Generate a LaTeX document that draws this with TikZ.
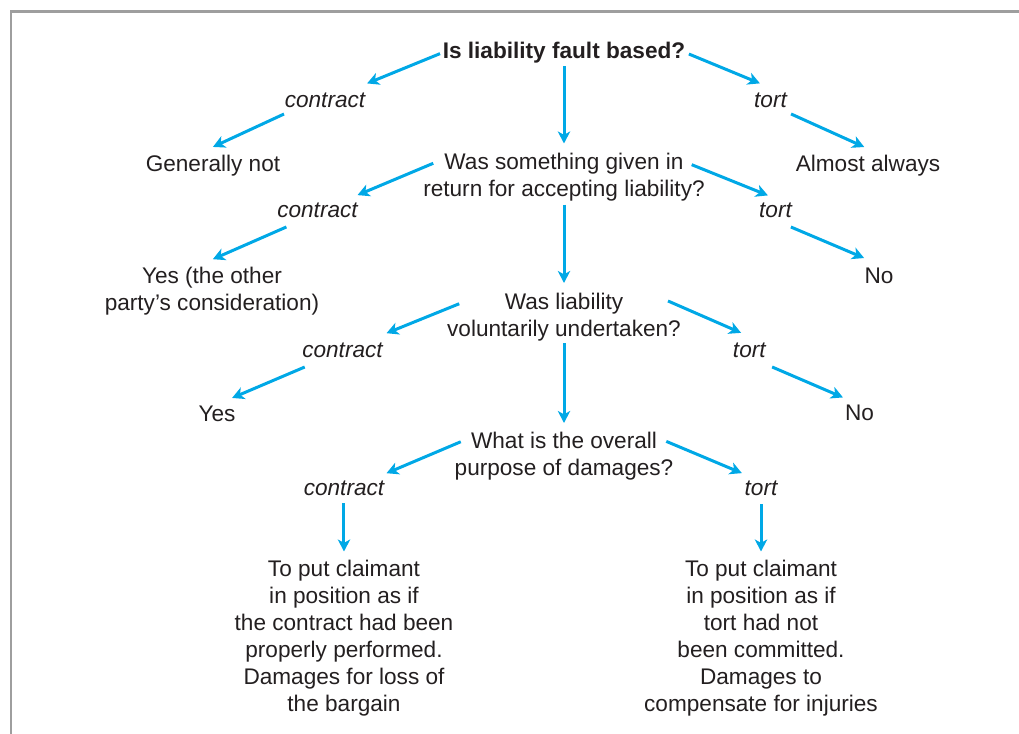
\documentclass[tikz,border=0pt]{standalone}
\usepackage{fontspec}
\setmainfont{Liberation Sans}
\usetikzlibrary{arrows.meta,positioning}
\definecolor{arrowblue}{RGB}{0,168,230}
\definecolor{ink}{RGB}{35,31,32}
\definecolor{framegray}{RGB}{158,158,158}

\begin{document}
\begin{tikzpicture}[
  x=0.5bp, y=-0.5bp, on grid,
  font=\fontsize{11.3bp}{13.5bp}\selectfont,
  every node/.style={inner sep=0pt, outer sep=0pt, text=ink},
  word/.style={text height=8bp, text depth=2.5bp},
  lead/.style={word, font=\fontsize{11.3bp}{13.5bp}\selectfont\bfseries},
  side/.style={word, font=\fontsize{11.3bp}{13.5bp}\selectfont\itshape},
  ask/.style={align=center},
  flow/.style={-{Stealth[length=6bp, width=6.2bp, inset=1.7bp]}, line width=1.5bp, draw=arrowblue},
  frame/.style={draw=framegray, line width=1.15bp}
]
\useasboundingbox (0,0) rectangle (1019,734);
\draw[frame] (11,734) -- (11,11.5) -- (1019,11.5);

\node[lead] (q1) at (564,52.5) {Is liability fault based?};
\node[side, below left=24.5bp and 119.5bp of q1] (c1) {contract};
\node[side, below right=24.5bp and 103.25bp of q1] (t1) {tort};
\node[word, below left=32bp and 56bp of c1] (gn) {Generally not};
\node[word, below right=32bp and 48.75bp of t1] (aa) {Almost always};

\node[ask, below=62.4bp of q1] (q2) {Was something given in\\return for accepting liability?};
\node[side, below left=17.1bp and 123.25bp of q2] (c2) {contract};
\node[side, below right=17.1bp and 105.75bp of q2] (t2) {tort};
\node[ask, below left=39.6bp and 52.75bp of c2] (yes1) {Yes (the other\\party’s consideration)};
\node[word, below right=33bp and 51.75bp of t2] (no1) {No};

\node[ask, below=69.75bp of q2] (q3) {Was liability\\voluntarily undertaken?};
\node[side, below left=17.35bp and 110.75bp of q3] (c3) {contract};
\node[side, below right=17.35bp and 92.65bp of q3] (t3) {tort};
\node[word, below left=32bp and 62.75bp of c3] (yes2) {Yes};
\node[word, below right=31.65bp and 55.1bp of t3] (no2) {No};

\node[ask, below=69.5bp of q3] (q4) {What is the overall\\purpose of damages?};
\node[side, below left=16.85bp and 110bp of q4] (c4) {contract};
\node[side, below right=16.85bp and 98.5bp of q4] (t4) {tort};
\node[ask, below=74.4bp of c4] (out1) {To put claimant\\in position as if\\the contract had been\\properly performed.\\Damages for loss of\\the bargain};
\node[ask, below=74.4bp of t4] (out2) {To put claimant\\in position as if\\tort had not\\been committed.\\Damages to\\compensate for injuries};

% first question
\draw[flow, shorten <=1.5bp, shorten >=10bp] (q1.west) -- (c1.24);
\draw[flow, shorten <=2bp, shorten >=10bp] (q1.east) -- (t1.53);
\draw[flow, shorten <=1.5bp, shorten >=4.9bp] (q1.south) -- (q2.north);
\draw[flow, shorten <=2.4bp, shorten >=9.6bp] (c1.196) -- (gn.149);
\draw[flow, shorten <=2.4bp, shorten >=9.7bp] (t1.-33) -- (aa.37);
% second question
\draw[flow, shorten <=-5.4bp, shorten >=7.6bp] (q2.176) -- (c2.22);
\draw[flow, shorten <=-7bp, shorten >=7.5bp] (q2.3) -- (t2.59);
\draw[flow, shorten <=1.65bp, shorten >=4.9bp] (q2.south) -- (q3.north);
\draw[flow, shorten <=6.2bp, shorten >=9.3bp] (c2.208) -- (yes1.124);
\draw[flow, shorten <=6.4bp, shorten >=11.5bp] (t2.-71) -- (no1.59);
% third question
\draw[flow, shorten <=-6.5bp, shorten >=10.4bp] (q3.176) -- (c3.23);
\draw[flow, shorten <=-7bp, shorten >=10.2bp] (q3.5) -- (t3.45);
\draw[flow, shorten <=1.15bp, shorten >=4.4bp] (q3.south) -- (q4.north);
\draw[flow, shorten <=6.4bp, shorten >=9bp] (c3.202) -- (yes2.98);
\draw[flow, shorten <=6.3bp, shorten >=8.7bp] (t3.-43) -- (no2.93);
% purpose of damages
\draw[flow, shorten <=-3.3bp, shorten >=7.4bp] (q4.174) -- (c4.20);
\draw[flow, shorten <=-3.8bp, shorten >=7.6bp] (q4.6) -- (t4.116);
\draw[flow, shorten <=1.5bp, shorten >=4.4bp] (c4.south) -- (out1.north);
\draw[flow, shorten <=2bp, shorten >=4.4bp] (t4.south) -- (out2.north);
\end{tikzpicture}
\end{document}
